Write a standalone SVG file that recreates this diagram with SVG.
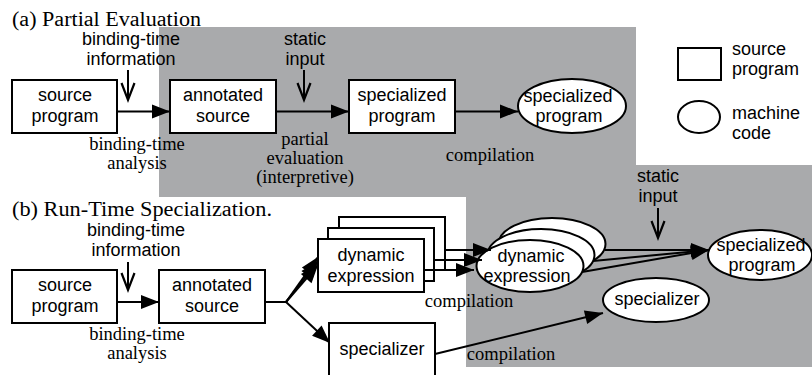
<svg xmlns="http://www.w3.org/2000/svg" width="812" height="375" viewBox="0 0 812 375">
<style>
.bg{fill:#a9aaac;stroke:none}
.box{fill:#fff;stroke:#000;stroke-width:2}
.s{font-family:"Liberation Sans",Arial,sans-serif;font-size:18px;fill:#000;text-anchor:middle}
.sl{font-family:"Liberation Sans",Arial,sans-serif;font-size:18px;fill:#000}
.r{font-family:"Liberation Serif","Times New Roman",serif;font-size:18.5px;fill:#000;text-anchor:middle}
.h{font-family:"Liberation Serif","Times New Roman",serif;font-size:20px;fill:#000}
.c{fill:none;stroke:#000;stroke-width:2}
.ca{fill:none;stroke:#000;stroke-width:2;marker-end:url(#ah)}
.cv{fill:none;stroke:#000;stroke-width:2;marker-end:url(#chev)}
</style>
<defs>
<marker id="ah" markerUnits="userSpaceOnUse" markerWidth="20" markerHeight="16" refX="18" refY="7" orient="auto" overflow="visible">
<path d="M0,0 L18,7 L0,14 z" fill="#000"/>
</marker>
<marker id="chev" markerUnits="userSpaceOnUse" markerWidth="20" markerHeight="16" refX="17" refY="7" orient="auto" overflow="visible">
<path d="M0,0.5 L17,7 L0,13.5" fill="none" stroke="#000" stroke-width="2.2"/>
</marker>
</defs>
<polygon class="bg" points="159,27 636,27 636,165 812,165 812,367 466,367 466,197 159,197"/>

<text class="h" x="12" y="26" textLength="189" lengthAdjust="spacingAndGlyphs">(a) Partial Evaluation</text>
<text class="h" x="12" y="216" textLength="260" lengthAdjust="spacingAndGlyphs">(b) Run-Time Specialization.</text>

<g id="connectors">
<line class="cv" x1="128" y1="70" x2="128" y2="100"/>
<line class="ca" x1="117" y1="111.5" x2="170" y2="111.5"/>
<line class="cv" x1="304" y1="70" x2="304" y2="100"/>
<line class="ca" x1="276" y1="111.5" x2="349" y2="111.5"/>
<line class="ca" x1="455" y1="111.5" x2="518" y2="111.5"/>
<line class="cv" x1="128" y1="262" x2="128" y2="290"/>
<line class="ca" x1="117" y1="302" x2="159" y2="302"/>
<line class="c" x1="265" y1="302" x2="286" y2="302"/>
<line class="ca" x1="286" y1="302" x2="318" y2="257"/>
<line class="ca" x1="286" y1="302" x2="318" y2="261"/>
<line class="ca" x1="286" y1="302" x2="318" y2="265"/>
<line class="ca" x1="286" y1="302" x2="330" y2="343"/>
<line class="ca" x1="435" y1="354" x2="603" y2="313"/>
<line class="cv" x1="658" y1="208" x2="658" y2="238"/>
</g>

<g id="a-bti-label">
<text class="s" x="131" y="45">binding-time</text>
<text class="s" x="131" y="65">information</text>
</g>
<g id="a-source">
<rect class="box" x="12" y="80" width="105" height="53"/>
<text class="s" x="65" y="101">source</text>
<text class="s" x="65" y="122">program</text>
</g>
<g id="a-bta-label">
<text class="r" x="137" y="150">binding-time</text>
<text class="r" x="137" y="169">analysis</text>
</g>
<g id="a-annotated">
<rect class="box" x="170" y="80" width="106" height="53"/>
<text class="s" x="223" y="101">annotated</text>
<text class="s" x="223" y="122">source</text>
</g>
<g id="a-static-label">
<text class="s" x="305" y="45">static</text>
<text class="s" x="305" y="65">input</text>
</g>
<g id="a-pe-label">
<text class="r" x="305" y="145">partial</text>
<text class="r" x="305" y="164">evaluation</text>
<text class="r" x="305" y="183">(interpretive)</text>
</g>
<g id="a-specialized">
<rect class="box" x="349" y="80" width="106" height="53"/>
<text class="s" x="402" y="101">specialized</text>
<text class="s" x="402" y="122">program</text>
</g>
<g id="a-comp-label">
<text class="r" x="490" y="161">compilation</text>
</g>
<g id="a-machine">
<ellipse class="box" cx="572" cy="106" rx="54" ry="27"/>
<text class="s" x="568" y="102">specialized</text>
<text class="s" x="569" y="122">program</text>
</g>

<g id="legend">
<rect class="box" x="678" y="48" width="43" height="32"/>
<text class="sl" x="732" y="55">source</text>
<text class="sl" x="732" y="75">program</text>
<ellipse class="box" cx="699" cy="117" rx="21" ry="16"/>
<text class="sl" x="732" y="119">machine</text>
<text class="sl" x="732" y="139">code</text>
</g>

<g id="b-bti-label">
<text class="s" x="136" y="236">binding-time</text>
<text class="s" x="136" y="256">information</text>
</g>
<g id="b-source">
<rect class="box" x="12" y="270" width="105" height="53"/>
<text class="s" x="65" y="291">source</text>
<text class="s" x="65" y="312">program</text>
</g>
<g id="b-bta-label">
<text class="r" x="137" y="340">binding-time</text>
<text class="r" x="137" y="359">analysis</text>
</g>
<g id="b-annotated">
<rect class="box" x="159" y="270" width="106" height="53"/>
<text class="s" x="212" y="291">annotated</text>
<text class="s" x="212" y="312">source</text>
</g>
<g id="b-dynamic-src">
<rect class="box" x="339" y="217" width="106" height="53"/>
<rect class="box" x="328" y="228" width="106" height="53"/>
<rect class="box" x="318" y="239" width="106" height="53"/>
<text class="s" x="371" y="261">dynamic</text>
<text class="s" x="371" y="282">expression</text>
</g>
<g id="b-specializer-src">
<rect class="box" x="329" y="323" width="106" height="60"/>
<text class="s" x="382" y="355">specializer</text>
</g>
<g id="b-comp-labels">
<text class="r" x="469" y="307">compilation</text>
<text class="r" x="511" y="360">compilation</text>
</g>
<g id="b-dynamic-mc">
<ellipse class="box" cx="552" cy="244" rx="53.5" ry="26"/>
<ellipse class="box" cx="541" cy="255" rx="53.5" ry="26"/>
<ellipse class="box" cx="530" cy="266" rx="53.5" ry="26"/>
<text class="s" x="531" y="262">dynamic</text>
<text class="s" x="527" y="282">expression</text>
</g>
<g id="connectors-b2">
<line class="ca" x1="445" y1="250" x2="491" y2="250"/>
<line class="ca" x1="434" y1="260" x2="482" y2="260"/>
<line class="ca" x1="424" y1="270" x2="474" y2="270"/>
<line class="ca" x1="605" y1="250" x2="709" y2="250"/>
<line class="ca" x1="593" y1="261" x2="709" y2="250"/>
<line class="ca" x1="582" y1="272" x2="709" y2="250"/>
</g>
<g id="b-static-label">
<text class="s" x="658" y="182">static</text>
<text class="s" x="658" y="202">input</text>
</g>
<g id="b-specialized-mc">
<ellipse class="box" cx="760" cy="255" rx="52" ry="25"/>
<text class="s" x="761" y="251">specialized</text>
<text class="s" x="762" y="271">program</text>
</g>
<g id="b-specializer-mc">
<ellipse class="box" cx="656" cy="300" rx="53" ry="22"/>
<text class="s" x="657" y="305">specializer</text>
</g>
</svg>
